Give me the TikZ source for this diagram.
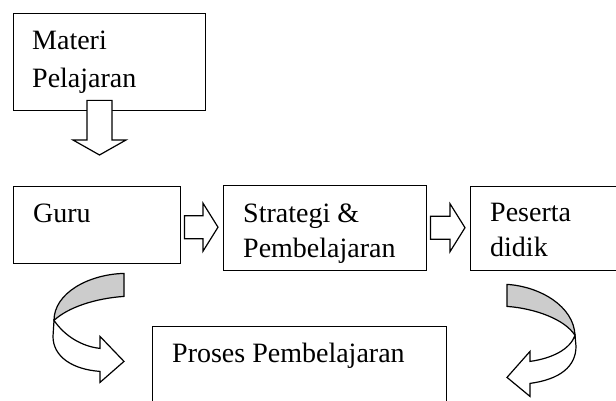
\documentclass[tikz,border=0pt]{standalone}
\usepackage{fontspec}
\setmainfont{Liberation Serif}
\usetikzlibrary{calc,positioning}
\tikzset{
box/.style={draw, line width=1.4pt, inner sep=0pt, anchor=north west}, % the rectangles
txt/.style={anchor=north west, inner sep=0pt, align=left, font=\fontsize{28}{35}\selectfont},
blockarrow/.style={draw, line width=1.2pt, fill=white, line join=miter},
backside/.style={draw, line width=1.2pt, fill=gray!40},
}
% right block arrow from #1 to #2
\newcommand{\rblock}[2]{%
\draw[blockarrow] let \p1=(#1.east), \p2=(#2.west) in
 (\x1+3pt,\y2-12.5pt) -- (\x2-20pt,\y2-12.5pt) -- (\x2-20pt,\y2-25pt)
 -- (\x2-5pt,\y2-1pt) -- (\x2-20pt,\y2+23pt) -- (\x2-20pt,\y2+10.5pt)
 -- (\x1+3pt,\y2+10.5pt) -- cycle;}

\begin{document}
\begin{tikzpicture}[x=1pt,y=1pt,yscale=-1]
\path[use as bounding box, clip] (0,0) rectangle (616,401);
%Rect
\node[box, minimum width=192pt, minimum height=97pt] (materi) at (13,13) {};
\node[box, minimum width=167pt, minimum height=77pt] (guru) at (13,186) {};
\node[box, minimum width=203pt, minimum height=85pt] (strategi) at (223,185) {};
\node[box, minimum width=170pt, minimum height=84pt] (peserta) at (470,186) {};
\node[box, minimum width=294pt, minimum height=100pt] (proses) at (152,326) {};
%Texts
\node[txt, font=\fontsize{28}{38}\selectfont] (materiT) at ($(materi.north west)+(19,18)$) {Materi\\Pelajaran};
\node[txt] (guruT) at ($(guru.north west)+(20,18)$) {Guru};
\node[txt] (strategiT) at ($(strategi.north west)+(20,19)$) {Strategi \&\\Pembelajaran};
\node[txt] (pesertaT) at ($(peserta.north west)+(20,17)$) {Peserta\\didik};
\node[txt] (prosesT) at ($(proses.north west)+(20,17)$) {Proses Pembelajaran};
%Block Arrow down
\draw[blockarrow] let \p1=(materi.south west), \p2=(guru.north) in
 (\x1+74pt,\y1-11pt) -- (\x1+99pt,\y1-11pt) -- (\x1+99pt,\y2-46pt) -- (\x1+113pt,\y2-46pt)
 -- (\x1+86.5pt,\y2-31pt) -- (\x1+60pt,\y2-46pt) -- (\x1+74pt,\y2-46pt) -- cycle;
%Block Arrows right
\rblock{guru}{strategi}
\rblock{strategi}{peserta}
%Curve Arrow left
\begin{scope}[shift={(guru.south west)}]
\draw[backside] (111,9) .. controls (75,10) and (41,29) .. (41,56) .. controls (55,43) and (82,34) .. (111,32) -- cycle;
\draw[blockarrow] (41,56) .. controls (52,72) and (69,82) .. (87,84) -- (87,72) -- (111,97) -- (87,118) -- (87,107)
 .. controls (59,105) and (40,92) .. (40,72) -- cycle;
\end{scope}
%Curve Arrow right
\begin{scope}[shift={(peserta.south west)}]
\draw[backside] (37,13) .. controls (70,15) and (104,35) .. (105,64) .. controls (95,48) and (65,37) .. (37,35) -- cycle;
\draw[blockarrow] (105,64) .. controls (100,78) and (82,87) .. (60,90) -- (60,80) -- (37,106) -- (60,125) -- (60,112)
 .. controls (90,108) and (106,95) .. (106,75) -- cycle;
\end{scope}
\end{tikzpicture}
\end{document}
